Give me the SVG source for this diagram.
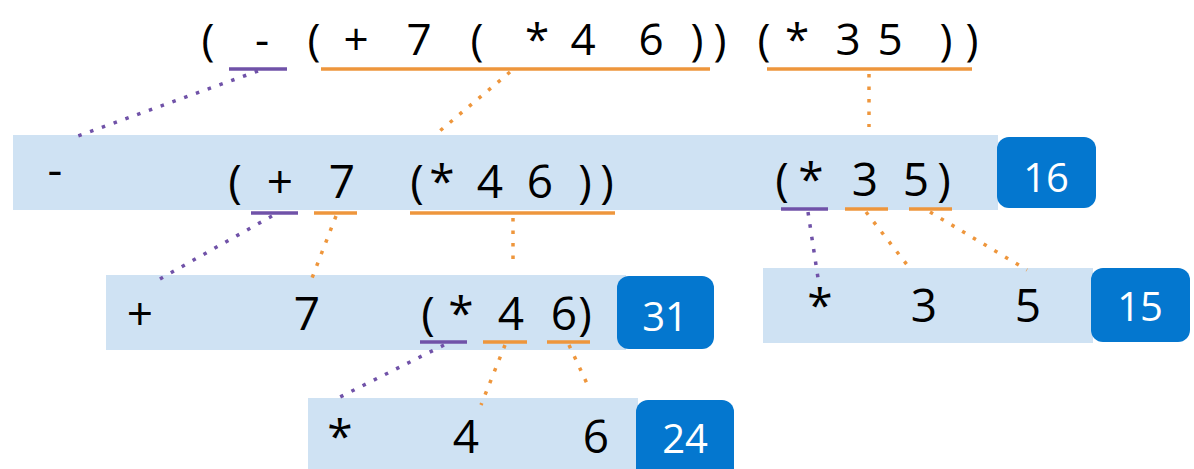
<svg xmlns="http://www.w3.org/2000/svg" width="1194" height="469" viewBox="0 0 1194 469">
  <style>
    .t { font-family: "Open Sans", "Liberation Sans", sans-serif; font-size: 44px; fill: #000; text-anchor: middle; }
    .tb { font-family: "Open Sans", "Liberation Sans", sans-serif; font-size: 46px; fill: #000; text-anchor: middle; }
    .badge-text { font-family: "Open Sans", "Liberation Sans", sans-serif; font-size: 40px; fill: #fff; text-anchor: middle; }
    .row { fill: #cfe2f3; }
    .badge { fill: #0477cf; }
    .ul-p { stroke: #7052a8; stroke-width: 3.5; }
    .ul-o { stroke: #ee963c; stroke-width: 3.5; }
    .dot-p { stroke: #7052a8; stroke-width: 3.5; stroke-dasharray: 3.5 9; fill: none; }
    .dot-o { stroke: #ee963c; stroke-width: 3.5; stroke-dasharray: 3.5 9; fill: none; }
  </style>

  <!-- full expression -->
  <g id="expr">
    <text class="t" x="208" y="55">(</text>
    <text class="t" x="262" y="55">-</text>
    <text class="t" x="314" y="55">(</text>
    <text class="t" x="356" y="55">+</text>
    <text class="t" x="419" y="55">7</text>
    <text class="t" x="477" y="55">(</text>
    <text class="t" x="537" y="55">*</text>
    <text class="t" x="583" y="55">4</text>
    <text class="t" x="651" y="55">6</text>
    <text class="t" x="697" y="55">)</text>
    <text class="t" x="720" y="55">)</text>
    <text class="t" x="764" y="55">(</text>
    <text class="t" x="797" y="55">*</text>
    <text class="t" x="848" y="55">3</text>
    <text class="t" x="890" y="55">5</text>
    <text class="t" x="946" y="55">)</text>
    <text class="t" x="972" y="55">)</text>
    <line class="ul-p" x1="229" y1="69" x2="287" y2="69"/>
    <line class="ul-o" x1="321" y1="69" x2="710" y2="69"/>
    <line class="ul-o" x1="767" y1="69" x2="972" y2="69"/>
  </g>

  <!-- level 1: minus -->
  <g id="node-minus">
    <rect class="row" x="13" y="135" width="985" height="75"/>
    <text class="tb" x="55" y="186">-</text>
    <text class="tb" x="235" y="198">(</text>
    <text class="tb" x="280" y="198">+</text>
    <text class="tb" x="342" y="198">7</text>
    <text class="tb" x="417" y="198">(</text>
    <text class="tb" x="442" y="198">*</text>
    <text class="tb" x="490" y="198">4</text>
    <text class="tb" x="540" y="198">6</text>
    <text class="tb" x="585" y="198">)</text>
    <text class="tb" x="607" y="198">)</text>
    <text class="tb" x="782" y="196">(</text>
    <text class="tb" x="811" y="196">*</text>
    <text class="tb" x="865" y="196">3</text>
    <text class="tb" x="916" y="196">5</text>
    <text class="tb" x="944" y="196">)</text>
    <line class="ul-p" x1="251" y1="213" x2="298" y2="213"/>
    <line class="ul-o" x1="314" y1="213" x2="357" y2="213"/>
    <line class="ul-o" x1="410" y1="213" x2="615" y2="213"/>
    <line class="ul-p" x1="781" y1="209" x2="828" y2="209"/>
    <line class="ul-o" x1="845" y1="209" x2="888" y2="209"/>
    <line class="ul-o" x1="909" y1="209" x2="952" y2="209"/>
    <rect class="badge" x="997" y="137" width="99" height="71" rx="12"/>
    <text class="badge-text" x="1046" y="192">16</text>
  </g>

  <!-- level 2: plus -->
  <g id="node-plus">
    <rect class="row" x="106" y="275" width="520" height="75"/>
    <text class="tb" x="140" y="330">+</text>
    <text class="tb" x="307" y="330">7</text>
    <text class="tb" x="428" y="330">(</text>
    <text class="tb" x="461" y="330">*</text>
    <text class="tb" x="511" y="330">4</text>
    <text class="tb" x="564" y="330">6</text>
    <text class="tb" x="585" y="330">)</text>
    <line class="ul-p" x1="420" y1="342" x2="467" y2="342"/>
    <line class="ul-o" x1="483" y1="342" x2="527" y2="342"/>
    <line class="ul-o" x1="547" y1="342" x2="590" y2="342"/>
    <rect class="badge" x="617" y="276" width="97" height="73" rx="12"/>
    <text class="badge-text" x="665" y="331">31</text>
  </g>

  <!-- level 2: times 3 5 -->
  <g id="node-times-35">
    <rect class="row" x="763" y="268" width="330" height="75"/>
    <text class="tb" x="820" y="322">*</text>
    <text class="tb" x="924" y="322">3</text>
    <text class="tb" x="1028" y="322">5</text>
    <rect class="badge" x="1091" y="268" width="99" height="74" rx="12"/>
    <text class="badge-text" x="1140" y="321">15</text>
  </g>

  <!-- level 3: times 4 6 -->
  <g id="node-times-46">
    <rect class="row" x="308" y="398" width="330" height="71"/>
    <text class="tb" x="340" y="453">*</text>
    <text class="tb" x="466" y="453">4</text>
    <text class="tb" x="596" y="453">6</text>
    <rect class="badge" x="636" y="400" width="98" height="80" rx="12"/>
    <text class="badge-text" x="685" y="453">24</text>
  </g>

  <!-- dotted links from underlined tokens to their slots -->
  <g id="connectors">
    <line class="dot-p" x1="258" y1="71" x2="75" y2="137"/>
    <line class="dot-o" x1="510" y1="72" x2="435" y2="135"/>
    <line class="dot-o" x1="869" y1="74" x2="869" y2="127"/>
    <line class="dot-p" x1="272" y1="216" x2="158" y2="280"/>
    <line class="dot-o" x1="336" y1="216" x2="312" y2="278"/>
    <line class="dot-o" x1="513" y1="218" x2="513" y2="268"/>
    <line class="dot-p" x1="808" y1="212" x2="818" y2="278"/>
    <line class="dot-o" x1="866" y1="212" x2="908" y2="266"/>
    <line class="dot-o" x1="930" y1="212" x2="1027" y2="270"/>
    <line class="dot-p" x1="444" y1="345" x2="340" y2="397"/>
    <line class="dot-o" x1="505" y1="345" x2="481" y2="405"/>
    <line class="dot-o" x1="569" y1="345" x2="590" y2="390"/>
  </g>
</svg>
